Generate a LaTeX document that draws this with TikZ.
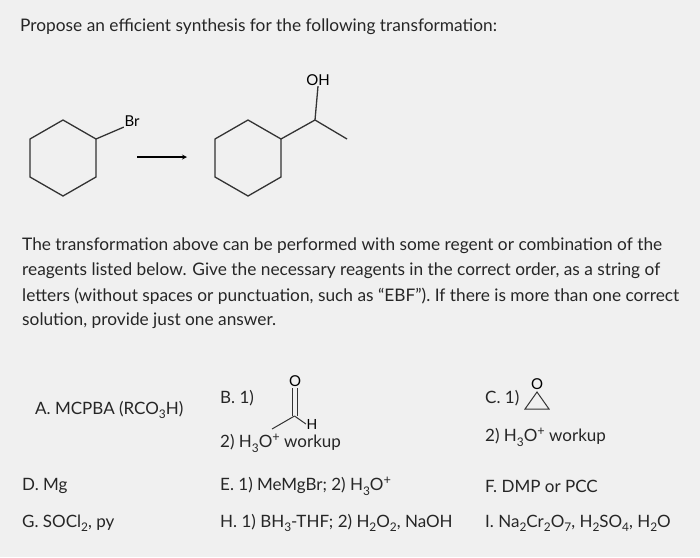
\documentclass[tikz,border=0pt]{standalone}
\usepackage{fontspec}
\setmainfont{Lato}
\newcommand{\sbs}[1]{\raisebox{-0.25em}{\scalebox{0.7}{#1}}}
\newcommand{\sps}[1]{\raisebox{0.4em}{\scalebox{0.75}{#1}}}
\begin{document}
\begin{tikzpicture}[x=1pt,y=-1pt,
  txt/.style={anchor=west,inner sep=0pt,font=\fontsize{17.3}{20}\selectfont,text=black!85},
  opt/.style={anchor=west,inner sep=0pt,font=\fontsize{17}{20}\selectfont,text=black!85},
  atom/.style={inner sep=0.5pt,font=\fontsize{15}{17}\selectfont},
  bond/.style={line width=1.3pt,black!80}]
\fill[black!6] (0,0) rectangle (700,557);
\useasboundingbox (0,0) rectangle (700,557);
\node[txt] (title) at (20,27) {Propose an efficient synthesis for the following transformation:};
% left molecule
\draw[bond] (63,120) -- (30,139) -- (30,177) -- (63,196) -- (96,177) -- (96,139) -- cycle;
\node[atom] (br) at (132,121) {Br};
\draw[bond] (96,139) -- (br.south west);
\coordinate (a1) at (137,157); \coordinate (a2) at (187,157);
\draw[line width=1.2pt,->,>=stealth] (a1) -- (a2);
% right molecule
\draw[bond] (248,120) -- (215,139) -- (215,177) -- (248,196) -- (281,177) -- (281,139) -- cycle;
\draw[bond] (281,139) -- (315,120) -- (347,139);
\node[atom] (oh) at (318,80) {OH};
\draw[bond] (315,120) -- (oh.south);
% paragraph
\node[txt] (p1) at (22,246) {The transformation above can be performed with some regent or combination of the};
\node[txt] (p2) at (22,271) {reagents listed below. Give the necessary reagents in the correct order, as a string of};
\node[txt] (p3) at (22,296) {letters (without spaces or punctuation, such as ``EBF''). If there is more than one correct};
\node[txt] (p4) at (22,321) {solution, provide just one answer.};
% options
\node[opt] (A) at (35,410) {A. MCPBA (RCO\sbs{3}H)};
\node[opt] (B) at (220,398) {B. 1)};
\node[atom] (bo) at (295,381) {O};
\draw[bond,line width=1pt] (292,388) -- (292,416); \draw[bond,line width=1pt] (297,388) -- (297,416);
\draw[bond,line width=1pt] (294.5,416) -- (272,429);
\node[atom,font=\fontsize{14}{16}\selectfont] (bh) at (312,424) {H};
\draw[bond,line width=1pt] (294.5,416) -- (bh.west);
\node[opt] (B2) at (220,443) {2) H\sbs{3}O\sps{+} workup};
\node[opt] (C) at (485,398) {C. 1)};
\node[atom] (co) at (537,384) {O};
\draw[bond,line width=1pt] (537,392) -- (525,409) -- (549,409) -- cycle;
\node[opt] (C2) at (485,437) {2) H\sbs{3}O\sps{+} workup};
\node[opt] (D) at (22,486) {D. Mg};
\node[opt] (E) at (220,486) {E. 1) MeMgBr; 2) H\sbs{3}O\sps{+}};
\node[opt] (F) at (485,486) {F. DMP or PCC};
\node[opt] (G) at (22,523) {G. SOCl\sbs{2}, py};
\node[opt] (H) at (220,523) {H. 1) BH\sbs{3}-THF; 2) H\sbs{2}O\sbs{2}, NaOH};
\node[opt] (I) at (485,523) {I. Na\sbs{2}Cr\sbs{2}O\sbs{7}, H\sbs{2}SO\sbs{4}, H\sbs{2}O};
\end{tikzpicture}
\end{document}
